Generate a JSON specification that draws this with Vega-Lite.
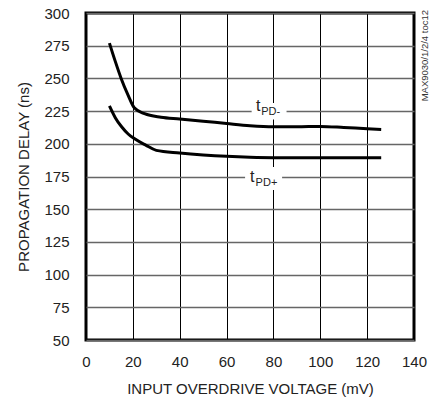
{
  "$schema": "https://vega.github.io/schema/vega-lite/v6.json",
  "autosize": {"type": "none"},
  "width": 328,
  "height": 327,
  "padding": {"left": 86, "top": 13, "right": 25, "bottom": 61},
  "background": "white",
  "config": {
    "view": {"stroke": "black", "strokeWidth": 3},
    "font": "Liberation Sans",
    "axis": {
      "labelFont": "Liberation Sans",
      "titleFont": "Liberation Sans",
      "labelFontSize": 15,
      "titleFontSize": 15,
      "titleFontWeight": "normal",
      "labelColor": "#222",
      "titleColor": "#222",
      "domain": false,
      "ticks": false,
      "tickSize": 0,
      "labelOverlap": false,
      "labelFlush": false,
      "gridOpacity": 1
    },
    "axisX": {
      "gridColor": "black", "gridWidth": 1,
      "labelPadding": 14,
      "titleY": 48, "titleBaseline": "middle"
    },
    "axisY": {
      "gridColor": "#666", "gridWidth": 1.3,
      "labelPadding": 17,
      "titleX": -63, "titleBaseline": "middle"
    }
  },
  "datasets": {
    "curves": [
      {"series": "tPD-", "mv": 10, "ns": 277},
      {"series": "tPD-", "mv": 12.5, "ns": 263},
      {"series": "tPD-", "mv": 15, "ns": 250},
      {"series": "tPD-", "mv": 18, "ns": 237},
      {"series": "tPD-", "mv": 20.6, "ns": 227.5},
      {"series": "tPD-", "mv": 25, "ns": 223},
      {"series": "tPD-", "mv": 32, "ns": 220.3},
      {"series": "tPD-", "mv": 40, "ns": 219},
      {"series": "tPD-", "mv": 50, "ns": 217.3},
      {"series": "tPD-", "mv": 60, "ns": 215.5},
      {"series": "tPD-", "mv": 70, "ns": 213.8},
      {"series": "tPD-", "mv": 80, "ns": 213},
      {"series": "tPD-", "mv": 90, "ns": 213},
      {"series": "tPD-", "mv": 100, "ns": 213.3},
      {"series": "tPD-", "mv": 110, "ns": 212.5},
      {"series": "tPD-", "mv": 120, "ns": 211.5},
      {"series": "tPD-", "mv": 126, "ns": 211},
      {"series": "tPD+", "mv": 10, "ns": 229},
      {"series": "tPD+", "mv": 12.5, "ns": 220},
      {"series": "tPD+", "mv": 15.2, "ns": 213},
      {"series": "tPD+", "mv": 18, "ns": 207.5},
      {"series": "tPD+", "mv": 20.6, "ns": 204},
      {"series": "tPD+", "mv": 25.5, "ns": 199},
      {"series": "tPD+", "mv": 30, "ns": 195},
      {"series": "tPD+", "mv": 40, "ns": 193},
      {"series": "tPD+", "mv": 50, "ns": 191.5},
      {"series": "tPD+", "mv": 60, "ns": 190.4},
      {"series": "tPD+", "mv": 70, "ns": 189.7},
      {"series": "tPD+", "mv": 80, "ns": 189.4},
      {"series": "tPD+", "mv": 100, "ns": 189.4},
      {"series": "tPD+", "mv": 126, "ns": 189.4}
    ],
    "boxes": [
      {"label": "tPD-", "x1": 70.7, "x2": 85.6, "y1": 218.5, "y2": 231.2},
      {"label": "tPD+", "x1": 67.9, "x2": 83.7, "y1": 164.7, "y2": 182.3}
    ],
    "labels": [
      {"label": "tPD-", "x": 72.6, "xs": 74.8, "y": 225.3, "main": "t", "sub": "PD-"},
      {"label": "tPD+", "x": 70.0, "xs": 72.4, "y": 171.0, "main": "t", "sub": "PD+"}
    ],
    "note": [
      {"x": 144.5, "y": 302.3, "text": "MAX9030/1/2/4 toc12"}
    ]
  },
  "encoding": {
    "x": {
      "type": "quantitative",
      "scale": {"domain": [0, 140], "nice": false, "zero": false},
      "axis": {
        "title": "INPUT OVERDRIVE VOLTAGE (mV)",
        "values": [0, 20, 40, 60, 80, 100, 120, 140],
        "grid": true
      }
    },
    "y": {
      "type": "quantitative",
      "scale": {"domain": [50, 300], "nice": false, "zero": false},
      "axis": {
        "title": "PROPAGATION DELAY (ns)",
        "values": [50, 75, 100, 125, 150, 175, 200, 225, 250, 275, 300],
        "grid": true
      }
    }
  },
  "layer": [
    {
      "data": {"name": "boxes"},
      "mark": {"type": "rect", "fill": "white"},
      "encoding": {
        "x": {"field": "x1", "type": "quantitative", "scale": {"domain": [0, 140], "nice": false, "zero": false}, "axis": {"title": "INPUT OVERDRIVE VOLTAGE (mV)", "values": [0, 20, 40, 60, 80, 100, 120, 140], "grid": true}},
        "x2": {"field": "x2"},
        "y": {"field": "y1", "type": "quantitative", "scale": {"domain": [50, 300], "nice": false, "zero": false}, "axis": {"title": "PROPAGATION DELAY (ns)", "values": [50, 75, 100, 125, 150, 175, 200, 225, 250, 275, 300], "grid": true}},
        "y2": {"field": "y2"}
      }
    },
    {
      "data": {"name": "curves"},
      "mark": {"type": "line", "color": "black", "strokeWidth": 3, "interpolate": "monotone", "strokeCap": "butt"},
      "encoding": {
        "x": {"field": "mv", "type": "quantitative", "scale": {"domain": [0, 140], "nice": false, "zero": false}, "axis": {"title": "INPUT OVERDRIVE VOLTAGE (mV)", "values": [0, 20, 40, 60, 80, 100, 120, 140], "grid": true}},
        "y": {"field": "ns", "type": "quantitative", "scale": {"domain": [50, 300], "nice": false, "zero": false}, "axis": {"title": "PROPAGATION DELAY (ns)", "values": [50, 75, 100, 125, 150, 175, 200, 225, 250, 275, 300], "grid": true}},
        "detail": {"field": "series"}
      }
    },
    {
      "data": {"name": "labels"},
      "mark": {"type": "text", "fontSize": 16, "align": "left", "baseline": "alphabetic", "color": "#222"},
      "encoding": {
        "x": {"field": "x", "type": "quantitative", "scale": {"domain": [0, 140], "nice": false, "zero": false}, "axis": {"title": "INPUT OVERDRIVE VOLTAGE (mV)", "values": [0, 20, 40, 60, 80, 100, 120, 140], "grid": true}},
        "y": {"field": "y", "type": "quantitative", "scale": {"domain": [50, 300], "nice": false, "zero": false}, "axis": {"title": "PROPAGATION DELAY (ns)", "values": [50, 75, 100, 125, 150, 175, 200, 225, 250, 275, 300], "grid": true}},
        "text": {"field": "main"}
      }
    },
    {
      "data": {"name": "labels"},
      "mark": {"type": "text", "fontSize": 11, "align": "left", "baseline": "alphabetic", "dy": 4, "color": "#222"},
      "encoding": {
        "x": {"field": "xs", "type": "quantitative", "scale": {"domain": [0, 140], "nice": false, "zero": false}, "axis": {"title": "INPUT OVERDRIVE VOLTAGE (mV)", "values": [0, 20, 40, 60, 80, 100, 120, 140], "grid": true}},
        "y": {"field": "y", "type": "quantitative", "scale": {"domain": [50, 300], "nice": false, "zero": false}, "axis": {"title": "PROPAGATION DELAY (ns)", "values": [50, 75, 100, 125, 150, 175, 200, 225, 250, 275, 300], "grid": true}},
        "text": {"field": "sub"}
      }
    },
    {
      "data": {"name": "note"},
      "mark": {"type": "text", "fontSize": 9.5, "angle": 270, "align": "right", "baseline": "middle", "color": "#333"},
      "encoding": {
        "x": {"field": "x", "type": "quantitative", "scale": {"domain": [0, 140], "nice": false, "zero": false}, "axis": {"title": "INPUT OVERDRIVE VOLTAGE (mV)", "values": [0, 20, 40, 60, 80, 100, 120, 140], "grid": true}},
        "y": {"field": "y", "type": "quantitative", "scale": {"domain": [50, 300], "nice": false, "zero": false}, "axis": {"title": "PROPAGATION DELAY (ns)", "values": [50, 75, 100, 125, 150, 175, 200, 225, 250, 275, 300], "grid": true}},
        "text": {"field": "text"}
      }
    }
  ]
}
